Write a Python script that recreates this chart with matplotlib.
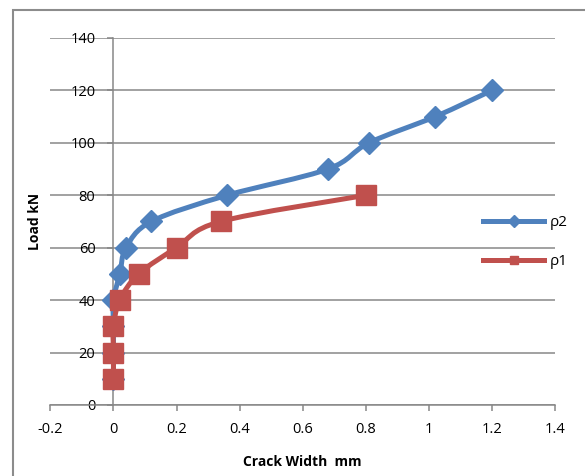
import numpy as np
import matplotlib.pyplot as plt
from matplotlib.path import Path
from matplotlib.patches import PathPatch, Rectangle
from matplotlib.lines import Line2D

plt.rcParams['font.family'] = ['Open Sans', 'DejaVu Sans']

# crack width (mm) against load (kN) for the two reinforcement ratios
rho2_width = [0, 0, 0, 0, 0.02, 0.04, 0.12, 0.36, 0.68, 0.81, 1.02, 1.2]
rho2_load = [10, 20, 30, 40, 50, 60, 70, 80, 90, 100, 110, 120]
rho1_width = [0, 0, 0, 0.02, 0.08, 0.2, 0.34, 0.8]
rho1_load = [10, 20, 30, 40, 50, 60, 70, 80]

x_ticks = [-0.2, 0, 0.2, 0.4, 0.6, 0.8, 1.0, 1.2, 1.4]
x_labels = ['-0.2', '0', '0.2', '0.4', '0.6', '0.8', '1', '1.2', '1.4']
y_ticks = [0, 20, 40, 60, 80, 100, 120, 140]

blue = '#4F81BD'
red = '#C0504D'
grey = '#878787'


def smooth_path(x, y):
    # Catmull-Rom style bezier through the points (like a smoothed line)
    pts = np.column_stack([x, y]).astype(float)
    n = len(pts)
    verts = [pts[0]]
    codes = [Path.MOVETO]
    for i in range(n - 1):
        p0 = pts[max(i - 1, 0)]
        p1 = pts[i]
        p2 = pts[i + 1]
        p3 = pts[min(i + 2, n - 1)]
        verts += [p1 + (p2 - p0) / 6, p2 - (p3 - p1) / 6, p2]
        codes += [Path.CURVE4] * 3
    return Path(verts, codes)


fig = plt.figure(figsize=(5.85, 4.76), dpi=100)
ax = fig.add_axes([50.4 / 585, 1 - 405 / 476, 504.6 / 585, 367 / 476])

lw = 3.6
ax.add_patch(PathPatch(smooth_path(rho2_width, rho2_load), fill=False,
                       ec=blue, lw=lw, capstyle='round', joinstyle='round', zorder=3))
ax.plot(rho2_width, rho2_load, ls='none', marker='D', ms=11.5, color=blue, zorder=3)
ax.add_patch(PathPatch(smooth_path(rho1_width, rho1_load), fill=False,
                       ec=red, lw=lw, capstyle='round', joinstyle='round', zorder=4))
ax.plot(rho1_width, rho1_load, ls='none', marker='s', ms=14, color=red, zorder=4)

ax.set_xlim(-0.2, 1.4)
ax.set_ylim(0, 140)
ax.set_xticks(x_ticks)
ax.set_xticklabels(x_labels)
ax.set_yticks(y_ticks)

ax.grid(axis='y', color=grey, lw=1.1)
ax.set_axisbelow(True)
for s in ['top', 'right']:
    ax.spines[s].set_visible(False)
ax.spines['left'].set_position(('data', 0))
ax.spines['left'].set_color(grey)
ax.spines['bottom'].set_color(grey)
ax.spines['left'].set_linewidth(1.1)
ax.spines['bottom'].set_linewidth(1.1)
ax.tick_params(axis='x', length=4, width=1.1, color=grey, pad=8, labelsize=10.5)
ax.tick_params(axis='y', length=4, width=1.1, color=grey, pad=9, labelsize=10.5)

ax.set_xlabel('Crack Width  mm', fontweight='bold', fontsize=10)
ax.xaxis.set_label_coords(0.5, -0.135)
ax.set_ylabel('Load kN', fontweight='bold', fontsize=10, va='center')
ax.yaxis.set_label_coords(-0.03, 0.5)

handles = [Line2D([], [], color=blue, lw=lw, marker='D', ms=6),
           Line2D([], [], color=red, lw=lw, marker='s', ms=6)]
ax.legend(handles, ['ρ2', 'ρ1'], loc='upper left', frameon=False,
          bbox_to_anchor=(483 / 585, 1 - 215 / 476), bbox_transform=fig.transFigure,
          borderpad=0, borderaxespad=0, handlelength=4.0, handletextpad=0.4,
          labelspacing=1.6, fontsize=11)

# chart area border
fig.patches.append(Rectangle((12.5 / 585, -0.1), 1.2, 1.1 - 10.5 / 476,
                             transform=fig.transFigure, fill=False,
                             ec='#8c8c8c', lw=1.5))

fig.savefig('out.png', dpi=100)
